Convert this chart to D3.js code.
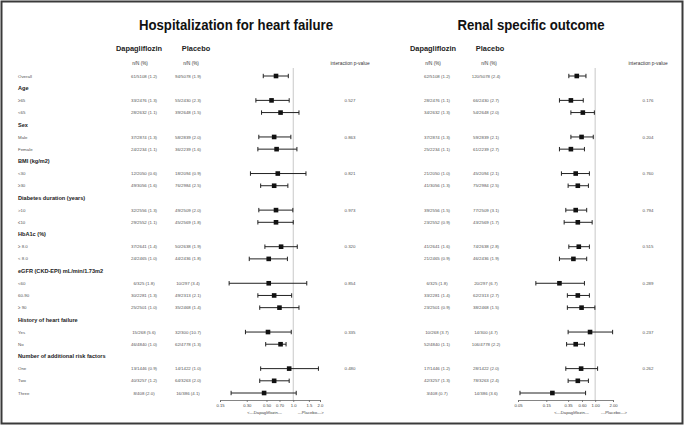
<!DOCTYPE html>
<html><head><meta charset="utf-8">
<script src="https://cdn.jsdelivr.net/npm/d3@7"></script>
<style>
html,body{margin:0;padding:0;background:#fff;}
svg{display:block;font-family:"Liberation Sans",Arial,sans-serif;}
</style></head>
<body><svg id="c" width="685" height="426"></svg>
<script>
const rowLabels = ["Overall","Age","≥65","<65","Sex","Male","Female","BMI (kg/m2)","<30","≥30",
 "Diabetes duration (years)",">10","≤10","HbA1c (%)","≥ 8.0","< 8.0","eGFR (CKD-EPI) mL/min/1.73m2",
 "<60","60-90","≥ 90","History of heart failure","Yes","No","Number of additional risk factors","One","Two","Three"];
const rowIsGroup = [0,1,0,0,1,0,0,1,0,0,1,0,0,1,0,0,1,0,0,0,1,0,0,1,0,0,0];

const hhfDapa = ["61/5108 (1.2)",null,"33/2476 (1.3)","28/2632 (1.1)",null,"37/2874 (1.3)","24/2234 (1.1)",null,"12/2050 (0.6)","49/3056 (1.6)",null,"32/2556 (1.3)","29/2552 (1.1)",null,"37/2641 (1.4)","24/2465 (1.0)",null,"6/325 (1.8)","30/2281 (1.3)","25/2501 (1.0)",null,"15/268 (5.6)","46/4840 (1.0)",null,"13/1446 (0.9)","40/3257 (1.2)","8/408 (2.0)"];
const hhfPlac = ["94/5078 (1.9)",null,"55/2430 (2.3)","39/2648 (1.5)",null,"58/2839 (2.0)","36/2239 (1.6)",null,"18/2094 (0.9)","76/2984 (2.5)",null,"49/2509 (2.0)","45/2569 (1.8)",null,"50/2638 (1.9)","44/2436 (1.8)",null,"10/297 (3.4)","49/2313 (2.1)","35/2468 (1.4)",null,"32/300 (10.7)","62/4778 (1.3)",null,"14/1422 (1.0)","64/3263 (2.0)","16/386 (4.1)"];
const hhfHR = [0.64,null,0.57,0.72,null,0.61,0.65,null,0.67,0.61,null,0.64,0.64,null,0.73,0.53,null,0.53,0.61,0.70,null,0.52,0.72,null,0.90,0.61,0.47];
const hhfLo = [0.46,null,0.38,0.44,null,0.41,0.40,null,0.33,0.43,null,0.41,0.40,null,0.48,0.32,null,0.19,0.40,0.42,null,0.29,0.49,null,0.43,0.42,0.20];
const hhfHi = [0.88,null,0.90,1.16,null,0.94,1.10,null,1.39,0.87,null,0.99,1.00,null,1.11,0.86,null,1.42,0.96,1.16,null,0.95,0.83,null,1.92,0.90,1.08];
const hhfP = [null,null,"0.527",null,null,"0.863",null,null,"0.821",null,null,"0.973",null,null,"0.320",null,null,"0.854",null,null,null,"0.335",null,null,"0.480",null,null];
const hhfTicks = [0.15,0.30,0.50,0.70,1.0,1.5,2.0];
const hhfTickLabels = ["0.15","0.30","0.50","0.70","1.0","1.5","2.0"];

const renDapa = ["62/5108 (1.2)",null,"28/2476 (1.1)","34/2632 (1.3)",null,"37/2874 (1.3)","25/2234 (1.1)",null,"21/2050 (1.0)","41/3056 (1.3)",null,"39/2556 (1.5)","23/2552 (0.9)",null,"41/2641 (1.6)","21/2465 (0.9)",null,"6/325 (1.8)","33/2281 (1.4)","23/2501 (0.9)",null,"10/268 (3.7)","52/4840 (1.1)",null,"17/1446 (1.2)","42/3257 (1.3)","3/408 (0.7)"];
const renPlac = ["120/5078 (2.4)",null,"66/2430 (2.7)","54/2648 (2.0)",null,"59/2839 (2.1)","61/2239 (2.7)",null,"45/2094 (2.1)","75/2984 (2.5)",null,"77/2509 (3.1)","43/2569 (1.7)",null,"74/2638 (2.8)","46/2436 (1.9)",null,"20/297 (6.7)","62/2313 (2.7)","38/2468 (1.5)",null,"14/300 (4.7)","106/4778 (2.2)",null,"28/1422 (2.0)","78/3263 (2.4)","14/386 (3.6)"];
const renHR = [0.49,null,0.39,0.62,null,0.59,0.39,null,0.47,0.51,null,0.47,0.51,null,0.53,0.43,null,0.25,0.51,0.59,null,0.82,0.47,null,0.58,0.51,0.19];
const renLo = [0.36,null,0.25,0.39,null,0.39,0.25,null,0.27,0.35,null,0.32,0.30,null,0.36,0.25,null,0.10,0.34,0.34,null,0.35,0.33,null,0.32,0.35,0.054];
const renHi = [0.70,null,0.63,0.97,null,0.93,0.66,null,0.80,0.77,null,0.72,0.89,null,0.80,0.72,null,0.66,0.80,0.99,null,1.97,0.66,null,1.10,0.77,0.69];
const renP = [null,null,"0.176",null,null,"0.204",null,null,"0.760",null,null,"0.794",null,null,"0.515",null,null,"0.289",null,null,null,"0.237",null,null,"0.262",null,null];
const renTicks = [0.05,0.15,0.35,0.60,1.00,2.00];
const renTickLabels = ["0.05","0.15","0.35","0.60","1.00","2.00"];

const svg = d3.select("#c");
svg.append("rect").attr("x",1.5).attr("y",1.5).attr("width",681).attr("height",422)
  .attr("fill","#fff").attr("stroke","#3a3a3a").attr("stroke-width",2);

const y = d3.scalePoint().domain(d3.range(rowLabels.length)).range([76, 393]);
const axisY = 400;

// row labels (left only)
svg.append("g").selectAll("text").data(rowLabels).join("text")
  .attr("x", 18).attr("y", (d,i)=>y(i)).attr("dy","0.35em")
  .attr("font-size", (d,i)=>rowIsGroup[i] ? 5.6 : 4.4)
  .attr("font-weight", (d,i)=>rowIsGroup[i] ? "bold" : "normal")
  .attr("fill", (d,i)=>rowIsGroup[i] ? "#222" : "#555")
  .text(d=>d);

function panel(cfg){
  const g = svg.append("g");
  g.append("text").attr("transform",`translate(${cfg.titleX},30) scale(0.88,1)`).attr("text-anchor","middle")
    .attr("font-weight","bold").attr("font-size",15).attr("fill","#111").text(cfg.title);
  g.append("text").attr("x",cfg.dapaHX).attr("y",48).attr("dy","0.35em").attr("text-anchor","middle")
    .attr("font-weight","bold").attr("font-size",7.4).attr("fill","#222").text("Dapagliflozin");
  g.append("text").attr("x",cfg.placHX).attr("y",48).attr("dy","0.35em").attr("text-anchor","middle")
    .attr("font-weight","bold").attr("font-size",7.4).attr("fill","#222").text("Placebo");
  g.append("text").attr("x",cfg.dapaX-4).attr("y",63).attr("dy","0.35em").attr("text-anchor","middle")
    .attr("font-size",4.6).attr("fill","#333").text("n/N (%)");
  g.append("text").attr("x",cfg.placX+3).attr("y",63).attr("dy","0.35em").attr("text-anchor","middle")
    .attr("font-size",4.6).attr("fill","#333").text("n/N (%)");
  g.append("text").attr("x",cfg.pX).attr("y",63).attr("dy","0.35em").attr("text-anchor","middle")
    .attr("font-size",4.8).attr("fill","#333").text("interaction p-value");

  const idx = d3.range(rowLabels.length).filter(i=>cfg.hr[i]!=null);
  g.append("g").selectAll("text").data(idx).join("text")
    .attr("x",cfg.dapaX).attr("y",i=>y(i)).attr("dy","0.35em").attr("text-anchor","middle")
    .attr("font-size",4.4).attr("fill","#555").text(i=>cfg.dapa[i]);
  g.append("g").selectAll("text").data(idx).join("text")
    .attr("x",cfg.placX).attr("y",i=>y(i)).attr("dy","0.35em").attr("text-anchor","middle")
    .attr("font-size",4.4).attr("fill","#555").text(i=>cfg.plac[i]);
  const pidx = d3.range(rowLabels.length).filter(i=>cfg.p[i]!=null);
  g.append("g").selectAll("text").data(pidx).join("text")
    .attr("x",cfg.pX).attr("y",i=>y(i)).attr("dy","0.35em").attr("text-anchor","middle")
    .attr("font-size",4.4).attr("fill","#555").text(i=>cfg.p[i]);

  const x = d3.scaleLog().domain([cfg.ticks[0], cfg.ticks[cfg.ticks.length-1]]).range(cfg.range);
  g.append("line").attr("x1",x(1)).attr("x2",x(1)).attr("y1",68).attr("y2",axisY)
    .attr("stroke","#c8c8c8").attr("stroke-width",1);
  const ax = d3.axisBottom(x).tickValues(cfg.ticks).tickFormat((d,i)=>cfg.tickLabels[i]).tickSize(2).tickPadding(2);
  const axg = g.append("g").attr("transform",`translate(0,${axisY})`).call(ax);
  axg.select(".domain").attr("stroke","#666").attr("stroke-width",0.8);
  axg.selectAll(".tick line").attr("stroke","#666").attr("stroke-width",0.8);
  axg.selectAll(".tick text").attr("font-size",4.2).attr("fill","#444").attr("font-family","Liberation Sans, Arial, sans-serif");
  g.append("text").attr("x",(x(cfg.ticks[0])+x(1))/2+cfg.arrowShift).attr("y",axisY+13).attr("dy","0.35em")
    .attr("text-anchor","middle").attr("font-size",4.2).attr("fill","#444").text("<---Dapagliflozin---");
  g.append("text").attr("x",(x(1)+x(cfg.ticks[cfg.ticks.length-1]))/2+cfg.arrowShift2).attr("y",axisY+13).attr("dy","0.35em")
    .attr("text-anchor","middle").attr("font-size",4.2).attr("fill","#444").text("---Placebo--->");

  const ci = g.append("g").attr("stroke","#222").attr("stroke-width",1);
  ci.selectAll("line.ci").data(idx).join("line").attr("class","ci")
    .attr("x1",i=>x(cfg.lo[i])).attr("x2",i=>x(cfg.hi[i])).attr("y1",i=>y(i)).attr("y2",i=>y(i));
  ci.selectAll("line.cl").data(idx).join("line").attr("class","cl")
    .attr("x1",i=>x(cfg.lo[i])).attr("x2",i=>x(cfg.lo[i])).attr("y1",i=>y(i)-2.2).attr("y2",i=>y(i)+2.2);
  ci.selectAll("line.ch").data(idx).join("line").attr("class","ch")
    .attr("x1",i=>x(cfg.hi[i])).attr("x2",i=>x(cfg.hi[i])).attr("y1",i=>y(i)-2.2).attr("y2",i=>y(i)+2.2);
  g.append("g").selectAll("rect").data(idx).join("rect")
    .attr("x",i=>x(cfg.hr[i])-2.3).attr("y",i=>y(i)-2.3).attr("width",4.6).attr("height",4.6).attr("fill","#111");
}

panel({title:"Hospitalization for heart failure", titleX:236, dapaHX:139, placHX:196, dapaX:144, placX:188, pX:350,
  range:[220,320], ticks:hhfTicks, tickLabels:hhfTickLabels, dapa:hhfDapa, plac:hhfPlac, hr:hhfHR, lo:hhfLo, hi:hhfHi, p:hhfP,
  arrowShift:8, arrowShift2:4});
panel({title:"Renal specific outcome", titleX:531, dapaHX:433, placHX:490, dapaX:437, placX:486, pX:648,
  range:[518,613], ticks:renTicks, tickLabels:renTickLabels, dapa:renDapa, plac:renPlac, hr:renHR, lo:renLo, hi:renHi, p:renP,
  arrowShift:15, arrowShift2:10});
</script></body></html>
